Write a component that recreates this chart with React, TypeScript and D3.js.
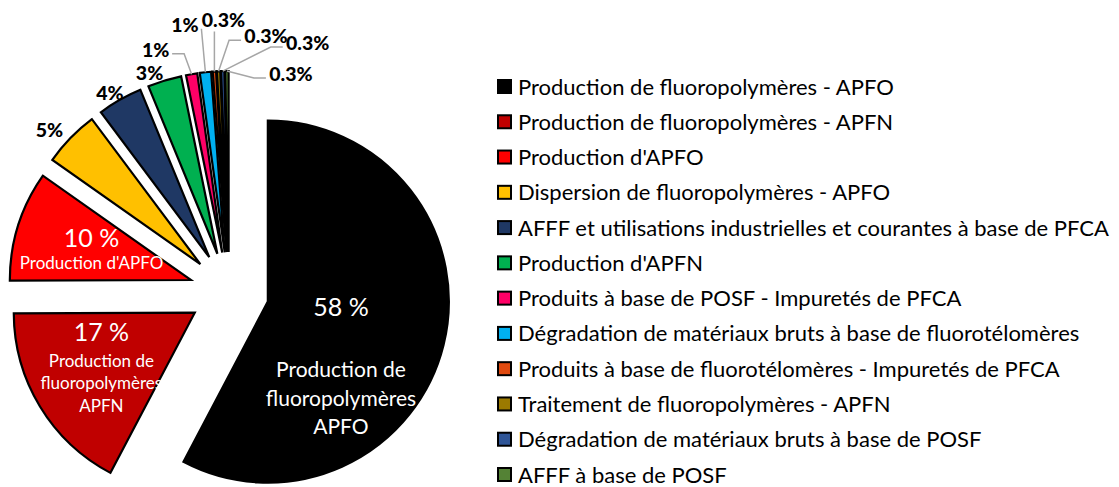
import * as d3 from "d3";

const categories = [
  "Production de fluoropolymères - APFO",
  "Production de fluoropolymères - APFN",
  "Production d'APFO",
  "Dispersion de fluoropolymères - APFO",
  "AFFF et utilisations industrielles et courantes à base de PFCA",
  "Production d'APFN",
  "Produits à base de POSF - Impuretés de PFCA",
  "Dégradation de matériaux bruts à base de fluorotélomères",
  "Produits à base de fluorotélomères - Impuretés de PFCA",
  "Traitement de fluoropolymères - APFN",
  "Dégradation de matériaux bruts à base de POSF",
  "AFFF à base de POSF",
];
const values = [57.6, 17.2, 9.8, 5.0, 4.0, 3.0, 1.0, 1.0, 0.3, 0.3, 0.3, 0.3];
const colors = [
  "#000000", "#C00000", "#FF0000", "#FFC000", "#1F3864", "#00B050",
  "#FF0066", "#00B0F0", "#E04A0F", "#9C7A00", "#2F5597", "#548235",
];
const pctLabels = ["58 %", "17 %", "10 %", "5%", "4%", "3%", "1%", "1%", "0.3%", "0.3%", "0.3%", "0.3%"];
const insideText = [
  ["58 %", "Production de", "fluoropolymères", "APFO"],
  ["17 %", "Production de", "fluoropolymères", "APFN"],
  ["10 %", "Production d'APFO"],
];

// layout
const width = 1119;
const height = 487;
const center = [229, 292];
const radius = 181;
const explode = 40;
const font = "Lato, 'Open Sans', sans-serif";

const insideLayout = [
  { nudge: [-14.7, 42.7], dys: [-60.5, 2, 31, 59], sizes: [25, 21, 21, 21] },
  { nudge: [-16, 8.4], dys: [-37, -8, 14, 37], sizes: [25, 17, 17, 17] },
  { nudge: [-13, -2.8], dys: [-13, 13], sizes: [25, 17] },
];
// offsets of the outside labels from the outer arc point, slices 3..11
const outsideOffsets = [
  [-21, -8], [-10, -7.5], [-15, -8],
  [-36, -25], [-20.5, -48], [9, -51.5], [47.5, -35.5], [85, -28.5], [64, 2.5],
];
const withLeader = [false, false, false, true, true, true, true, true, true];

const dir = (a: number) => [Math.sin(a), -Math.cos(a)];

export default function App() {
  const pie = d3.pie<number>().sort(null).value((d) => d);
  const arcs = pie(values);
  const arc = d3.arc<d3.PieArcDatum<number>>().innerRadius(0).outerRadius(radius);

  const legendX = 497;
  const legendY = d3.scaleLinear().domain([0, categories.length - 1]).range([86, 474]);

  return (
    <svg
      width={width}
      height={height}
      style={{ position: "absolute", left: 0, top: 0, background: "#fff" }}
      fontFamily={font}
    >
      {arcs.map((a, i) => {
        const mid = (a.startAngle + a.endAngle) / 2;
        const [dx, dy] = dir(mid);
        return (
          <path
            key={i}
            d={arc(a) as string}
            transform={`translate(${center[0] + dx * explode}, ${center[1] + dy * explode})`}
            fill={colors[i]}
            stroke="#000"
            strokeWidth={2.2}
          />
        );
      })}

      {insideText.map((lines, i) => {
        const a = arcs[i];
        const mid = (a.startAngle + a.endAngle) / 2;
        const [dx, dy] = dir(mid);
        const lay = insideLayout[i];
        const bx = center[0] + dx * (explode + radius / 2) + lay.nudge[0];
        const by = center[1] + dy * (explode + radius / 2) + lay.nudge[1];
        return (
          <g key={i} fill="#fff" textAnchor="middle">
            {lines.map((t, j) => (
              <text key={j} x={bx} y={by + lay.dys[j]} fontSize={lay.sizes[j]} dominantBaseline="central">
                {t}
              </text>
            ))}
          </g>
        );
      })}

      {outsideOffsets.map((off, k) => {
        const i = k + 3;
        const a = arcs[i];
        const mid = (a.startAngle + a.endAngle) / 2;
        const [dx, dy] = dir(mid);
        const ax = center[0] + dx * (explode + radius);
        const ay = center[1] + dy * (explode + radius);
        const lx = ax + off[0];
        const ly = ay + off[1];
        const w = pctLabels[i].length > 2 ? 42 : 25;
        const h = 15;
        let pts: number[][] | null = null;
        if (withLeader[k]) {
          if (ax > lx + w / 2) {
            const s = [lx + w / 2 + 4, ly + h * 0.3];
            const e = s[0] + 12;
            pts = e < ax ? [s, [e, s[1]], [ax, ay]] : [s, [ax, ay]];
          } else if (ax < lx - w / 2) {
            const s = [lx - w / 2 - 4, ly + h * 0.3];
            const e = s[0] - 12;
            pts = e > ax ? [s, [e, s[1]], [ax, ay]] : [s, [ax, ay]];
          } else {
            pts = [[ax, ly + h / 2 + 4], [ax, ay]];
          }
        }
        return (
          <g key={i}>
            {pts && (
              <path d={d3.line()(pts as [number, number][]) as string} fill="none" stroke="#A6A6A6" strokeWidth={1.5} />
            )}
            <text x={lx} y={ly} textAnchor="middle" dominantBaseline="central" fontWeight="900" fontSize={19.5} fill="#000">
              {pctLabels[i]}
            </text>
          </g>
        );
      })}

      {categories.map((c, i) => (
        <g key={i} transform={`translate(0, ${legendY(i)})`}>
          <rect x={legendX + 1} y={-6} width={13} height={13} fill={colors[i]} stroke="#000" strokeWidth={2} />
          <text x={518} y={0} fontSize={22} dominantBaseline="central" fill="#000">
            {c}
          </text>
        </g>
      ))}
    </svg>
  );
}
